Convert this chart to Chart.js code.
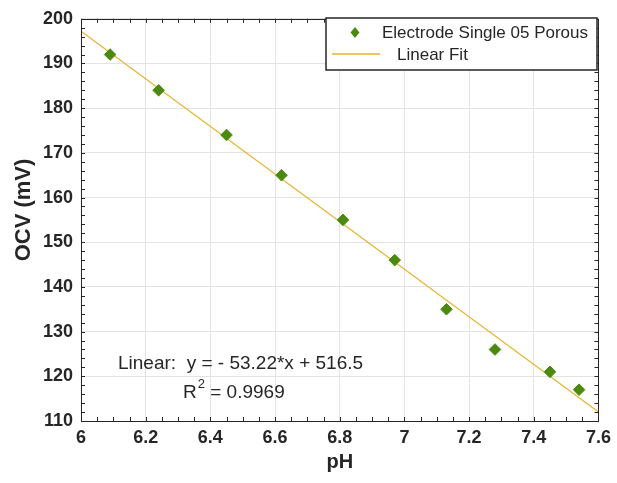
<!DOCTYPE html>
<html>
<head>
<meta charset="utf-8">
<script src="https://cdn.jsdelivr.net/npm/chart.js@4.4.1/dist/chart.umd.min.js"></script>
<style>
  html, body { margin: 0; padding: 0; background: #fff; }
  #grafica { display: block; }
</style>
</head>
<body>
<canvas id="grafica" width="617" height="483"></canvas>
<script>
// datos
const phValues = [6.09, 6.24, 6.45, 6.62, 6.81, 6.97, 7.13, 7.28, 7.45, 7.54];
const ocvValues = [192, 184, 174, 165, 155, 146, 135, 126, 121, 117];
const fitPh = [6, 7.6];
const fitOcv = [197.2, 112.0];
const xTicks = [6, 6.2, 6.4, 6.6, 6.8, 7, 7.2, 7.4, 7.6];
const yTicks = [110, 120, 130, 140, 150, 160, 170, 180, 190, 200];
const seriesLabels = ['Electrode Single 05 Porous', 'Linear Fit'];
const yTitle = 'OCV (mV)';
const fitText = 'Linear:  y = - 53.22*x + 516.5';
const r2Text = ' = 0.9969';

const verde = '#4b8a0f';
const amarillo = '#e8b530';
const negro = '#262626';
const fuente = '"Liberation Sans", Arial, sans-serif';

// caja, ticks menores, leyenda y texto del ajuste
const extras = {
  id: 'extras',
  afterDatasetsDraw(chart) {
    const { ctx, chartArea: a, scales: { x, y } } = chart;
    ctx.save();
    ctx.strokeStyle = negro;
    ctx.lineWidth = 1;
    ctx.beginPath();
    // ticks x (mayores y menores) arriba y abajo
    for (let v = 6; v <= 7.6001; v += 0.05) {
      const px = Math.round(x.getPixelForValue(v)) + 0.5;
      ctx.moveTo(px, a.bottom); ctx.lineTo(px, a.bottom - 4);
      ctx.moveTo(px, a.top); ctx.lineTo(px, a.top + 4);
    }
    for (let v = 110; v <= 200; v += 2) {
      const py = Math.round(y.getPixelForValue(v)) + 0.5;
      ctx.moveTo(a.left, py); ctx.lineTo(a.left + 4, py);
      ctx.moveTo(a.right, py); ctx.lineTo(a.right - 4, py);
    }
    ctx.stroke();
    ctx.strokeRect(Math.round(a.left) + 0.5, Math.round(a.top) + 0.5,
      Math.round(a.right - a.left), Math.round(a.bottom - a.top));

    // titulo eje y
    ctx.save();
    ctx.translate(24, 210);
    ctx.rotate(-Math.PI / 2);
    ctx.fillStyle = negro;
    ctx.font = 'bold 22px ' + fuente;
    ctx.textAlign = 'center';
    ctx.textBaseline = 'middle';
    ctx.fillText(yTitle, 0, 0);
    ctx.restore();

    // leyenda
    const lx = 326, ly = 18, lw = 271, lh = 52;
    ctx.fillStyle = '#fff';
    ctx.fillRect(lx, ly, lw, lh);
    ctx.lineWidth = 1.5;
    ctx.strokeStyle = negro;
    ctx.strokeRect(lx, ly, lw, lh);
    ctx.fillStyle = verde;
    ctx.beginPath();
    ctx.moveTo(355, 27); ctx.lineTo(359.5, 32.5); ctx.lineTo(355, 38); ctx.lineTo(350.5, 32.5);
    ctx.closePath();
    ctx.fill();
    ctx.strokeStyle = amarillo;
    ctx.lineWidth = 1.5;
    ctx.beginPath();
    ctx.moveTo(332, 54); ctx.lineTo(380, 54);
    ctx.stroke();
    ctx.fillStyle = negro;
    ctx.font = '17px ' + fuente;
    ctx.textBaseline = 'middle';
    ctx.fillText(seriesLabels[0], 382, 33);
    ctx.fillText(seriesLabels[1], 397, 55);

    // texto del ajuste lineal
    ctx.font = '19px ' + fuente;
    ctx.textBaseline = 'alphabetic';
    ctx.fillText(fitText, 118, 369);
    ctx.fillText('R', 183, 398);
    const rw = ctx.measureText('R').width;
    ctx.font = '13px ' + fuente;
    ctx.fillText('2', 183 + rw + 1, 388);
    const sw = ctx.measureText('2').width;
    ctx.font = '19px ' + fuente;
    ctx.fillText(r2Text, 183 + rw + sw + 1, 398);
    ctx.restore();
  }
};

const config = {
  type: 'scatter',
  data: {
    datasets: [
      {
        label: seriesLabels[0],
        data: phValues.map((p, i) => ({ x: p, y: ocvValues[i] })),
        pointStyle: 'rectRot',
        pointRadius: 5.8,
        backgroundColor: verde,
        borderColor: verde,
        borderWidth: 1,
        order: 1
      },
      {
        label: seriesLabels[1],
        type: 'line',
        data: fitPh.map((p, i) => ({ x: p, y: fitOcv[i] })),
        borderColor: amarillo,
        borderWidth: 1.2,
        pointRadius: 0,
        fill: false,
        order: 2
      }
    ]
  },
  options: {
    responsive: false,
    animation: false,
    devicePixelRatio: 1,
    layout: { padding: { top: 15, right: 17, left: 0, bottom: 0 } },
    plugins: {
      legend: { display: false },
      tooltip: { enabled: false }
    },
    scales: {
      x: {
        type: 'linear',
        min: 6, max: 7.6,
        afterFit: s => { s.height = 62; },
        afterBuildTicks: s => { s.ticks = xTicks.map(v => ({ value: v })); },
        ticks: {
          color: negro,
          padding: 6,
          font: { family: fuente, size: 18, weight: 'bold' },
          callback: v => String(Number(v.toFixed(1)))
        },
        grid: { color: '#e3e3e3', drawTicks: false },
        border: { display: false },
        title: {
          display: true,
          text: 'pH',
          color: negro,
          padding: { top: 0, bottom: 9 },
          font: { family: fuente, size: 20, weight: 'bold' }
        }
      },
      y: {
        type: 'linear',
        min: 110, max: 200,
        afterFit: s => { s.width = 81; },
        afterBuildTicks: s => { s.ticks = yTicks.map(v => ({ value: v })); },
        ticks: {
          color: negro,
          padding: 8,
          font: { family: fuente, size: 18, weight: 'bold' }
        },
        grid: { color: '#e3e3e3', drawTicks: false },
        border: { display: false }
      }
    }
  },
  plugins: [extras]
};

window.addEventListener('DOMContentLoaded', () => {
  const canvas = document.getElementById('grafica');
  if (canvas) new Chart(canvas, config);
});
</script>
</body>
</html>
